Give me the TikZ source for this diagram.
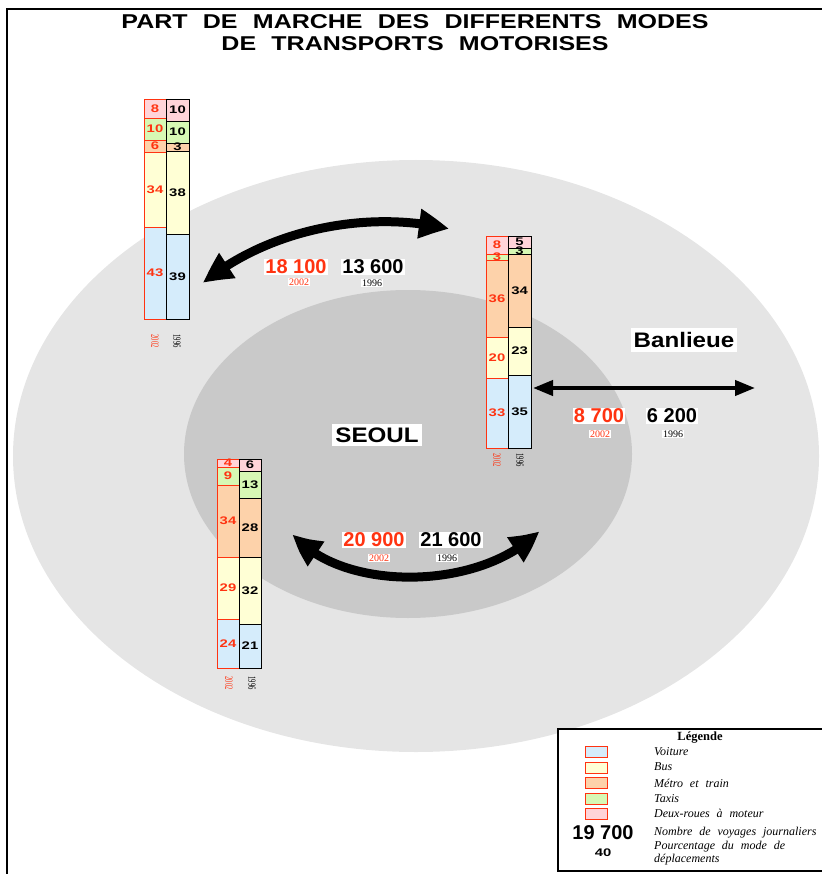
\documentclass[tikz,border=0pt]{standalone}
\usepackage{fontspec}
\setmainfont{Liberation Serif}
\setsansfont{Liberation Sans}
\newfontfamily\titlefont[WordSpace=2.2]{Liberation Sans}
\newfontfamily\legfont[WordSpace=2.3]{Liberation Serif}
\usetikzlibrary{arrows.meta,bending}
\definecolor{cvoit}{HTML}{D5ECFB}
\definecolor{cbus}{HTML}{FFFFD5}
\definecolor{cmetro}{HTML}{FDD2AA}
\definecolor{ctaxi}{HTML}{D7F8B4}
\definecolor{cdeux}{HTML}{FFD4D9}
\definecolor{redc}{HTML}{FF3311}
\definecolor{outergrey}{HTML}{E5E5E5}
\definecolor{innergrey}{HTML}{C9C9C9}
\newcommand\wnum[1]{\scalebox{1.35}[1]{#1}}
\newcommand\seg[8]{%
  \draw[draw=#7, fill=#6, line width=0.9pt] (#2,#4) rectangle (#3,#5);
  \node[barnum, text=#7] (#1) at ({(#2+#3)/2},{(#4+#5)/2}) {\wnum{#8}};
}
\tikzset{
  barnum/.style={font=\sffamily\bfseries\fontsize{11}{12}\selectfont, inner sep=0pt},
  yearlbl/.style={font=\rmfamily\fontsize{11}{12}\selectfont, rotate=-90, inner sep=0pt},
  bignum/.style={font=\sffamily\bfseries\fontsize{20}{22}\selectfont, fill=white, inner sep=1pt},
  smallyear/.style={font=\rmfamily\fontsize{10}{11}\selectfont, fill=white, inner sep=1pt},
  placelbl/.style={font=\sffamily\bfseries\fontsize{21}{23}\selectfont, fill=white, inner xsep=3pt, inner ysep=4pt},
  bigarrow/.style={line width=9pt, {Triangle[length=30pt,width=28pt,bend]}-{Triangle[length=30pt,width=28pt,bend]}},
  hzarrow/.style={line width=4pt, {Triangle[length=20pt,width=15pt]}-{Triangle[length=20pt,width=15pt]}},
  swatch/.style={draw=redc, line width=1pt},
  legtext/.style={font=\legfont\itshape\fontsize{12}{13}\selectfont, anchor=west, inner sep=0pt, align=left}
}
\begin{document}
\begin{tikzpicture}[x=1pt,y=-1pt]
\useasboundingbox (0,0) rectangle (821,874);
% zones
\fill[outergrey] (416,456) ellipse [x radius=403, y radius=296];
\fill[innergrey] (408,454) ellipse [x radius=224, y radius=164];
% frame
\draw[line width=2.5pt] (7,876) -- (7,9) -- (825,9);
% title
\node[font=\titlefont\bfseries\fontsize{20}{22}\selectfont, align=center] (title) at (415,33)
  {\scalebox{1.25}[1]{PART DE MARCHE DES DIFFERENTS MODES}\\\scalebox{1.25}[1]{DE TRANSPORTS MOTORISES}};

% ---- top-left bars
\seg{tl02a}{144}{166}{99}{118}{cdeux}{redc}{8}
\seg{tl02b}{144}{166}{118}{140}{ctaxi}{redc}{10}
\seg{tl02c}{144}{166}{140}{152}{cmetro}{redc}{6}
\seg{tl02d}{144}{166}{152}{227}{cbus}{redc}{34}
\seg{tl02e}{144}{166}{227}{319}{cvoit}{redc}{43}
\seg{tl96a}{166}{189}{99}{121}{cdeux}{black}{10}
\seg{tl96b}{166}{189}{121}{143}{ctaxi}{black}{10}
\seg{tl96c}{166}{189}{143}{151}{cmetro}{black}{3}
\seg{tl96d}{166}{189}{151}{234}{cbus}{black}{38}
\seg{tl96e}{166}{189}{234}{319}{cvoit}{black}{39}
\node[yearlbl, text=redc] (tly02) at (155,341) {\scalebox{0.6}[1]{2002}};
\node[yearlbl] (tly96) at (177,341) {\scalebox{0.6}[1]{1996}};

% ---- right bars
\seg{r02a}{486}{508}{236}{254}{cdeux}{redc}{8}
\seg{r02b}{486}{508}{254}{260}{ctaxi}{redc}{3}
\seg{r02c}{486}{508}{260}{337}{cmetro}{redc}{36}
\seg{r02d}{486}{508}{337}{378}{cbus}{redc}{20}
\seg{r02e}{486}{508}{378}{448}{cvoit}{redc}{33}
\seg{r96a}{508}{531}{236}{248}{cdeux}{black}{5}
\seg{r96b}{508}{531}{248}{254}{ctaxi}{black}{3}
\seg{r96c}{508}{531}{254}{327}{cmetro}{black}{34}
\seg{r96d}{508}{531}{327}{375}{cbus}{black}{23}
\seg{r96e}{508}{531}{375}{448}{cvoit}{black}{35}
\node[yearlbl, text=redc] (ry02) at (497,460) {\scalebox{0.6}[1]{2002}};
\node[yearlbl] (ry96) at (520,460) {\scalebox{0.6}[1]{1996}};

% ---- bottom bars
\seg{b02a}{217}{239}{459}{467}{cdeux}{redc}{4}
\seg{b02b}{217}{239}{467}{485}{ctaxi}{redc}{9}
\seg{b02c}{217}{239}{485}{557}{cmetro}{redc}{34}
\seg{b02d}{217}{239}{557}{619}{cbus}{redc}{29}
\seg{b02e}{217}{239}{619}{668}{cvoit}{redc}{24}
\seg{b96a}{239}{261}{459}{471}{cdeux}{black}{6}
\seg{b96b}{239}{261}{471}{498}{ctaxi}{black}{13}
\seg{b96c}{239}{261}{498}{557}{cmetro}{black}{28}
\seg{b96d}{239}{261}{557}{624}{cbus}{black}{32}
\seg{b96e}{239}{261}{624}{668}{cvoit}{black}{21}
\node[yearlbl, text=redc] (by02) at (229,683) {\scalebox{0.6}[1]{2002}};
\node[yearlbl] (by96) at (252,683) {\scalebox{0.6}[1]{1996}};

% ---- arrows
\coordinate (a1s) at (203,283);
\coordinate (a1e) at (449,229);
\draw[bigarrow] (a1s) .. controls (270,228) and (370,210) .. (a1e);
\coordinate (a2s) at (293,534);
\coordinate (a2e) at (539,531);
\draw[bigarrow] (a2s) .. controls (340,592) and (480,592) .. (a2e);
\coordinate (a3s) at (533,388);
\coordinate (a3e) at (755,388);
\draw[hzarrow] (a3s) -- (a3e);

% ---- flow numbers
\node[bignum, text=redc] (n1a) at (296,267) {18 100};
\node[bignum] (n1b) at (373,267) {13 600};
\node[smallyear, text=redc] (y1a) at (299,282) {2002};
\node[smallyear] (y1b) at (372,283) {1996};
\node[bignum, text=redc] (n2a) at (374,540) {20 900};
\node[bignum] (n2b) at (451,540) {21 600};
\node[smallyear, text=redc] (y2a) at (379,558) {2002};
\node[smallyear] (y2b) at (447,558) {1996};
\node[bignum, text=redc] (n3a) at (599,416) {8 700};
\node[bignum] (n3b) at (672,416) {6 200};
\node[smallyear, text=redc] (y3a) at (600,434) {2002};
\node[smallyear] (y3b) at (673,434) {1996};

% ---- place names
\node[placelbl] (banl) at (684,340) {\scalebox{1.15}[1]{Banlieue}};
\node[placelbl] (seoul) at (377,435) {\scalebox{1.15}[1]{SEOUL}};

% ---- legend
\draw[line width=2pt, fill=white] (558,729) rectangle (830,871);
\node[font=\rmfamily\bfseries\fontsize{12.5}{14}\selectfont] (legt) at (700,738) {Légende};
\draw[swatch, fill=cvoit] (585,746) rectangle (607,757);
\draw[swatch, fill=cbus] (585,762) rectangle (607,773);
\draw[swatch, fill=cmetro] (585,777) rectangle (607,788);
\draw[swatch, fill=ctaxi] (585,793) rectangle (607,804);
\draw[swatch, fill=cdeux] (585,808) rectangle (607,819);
\node[legtext] (l1) at (654,752) {Voiture};
\node[legtext] (l2) at (654,767) {Bus};
\node[legtext] (l3) at (654,783) {Métro et train};
\node[legtext] (l4) at (654,799) {Taxis};
\node[legtext] (l5) at (654,813) {Deux-roues à moteur};
\node[font=\sffamily\bfseries\fontsize{20}{22}\selectfont, inner sep=0pt] (l6n) at (603,833) {19 700};
\node[legtext] (l6) at (654,833) {Nombre de voyages journaliers};
\node[barnum] (l7n) at (603,853) {\wnum{40}};
\node[legtext] (l7) at (654,853) {Pourcentage du mode de\\déplacements};
\end{tikzpicture}
\end{document}
